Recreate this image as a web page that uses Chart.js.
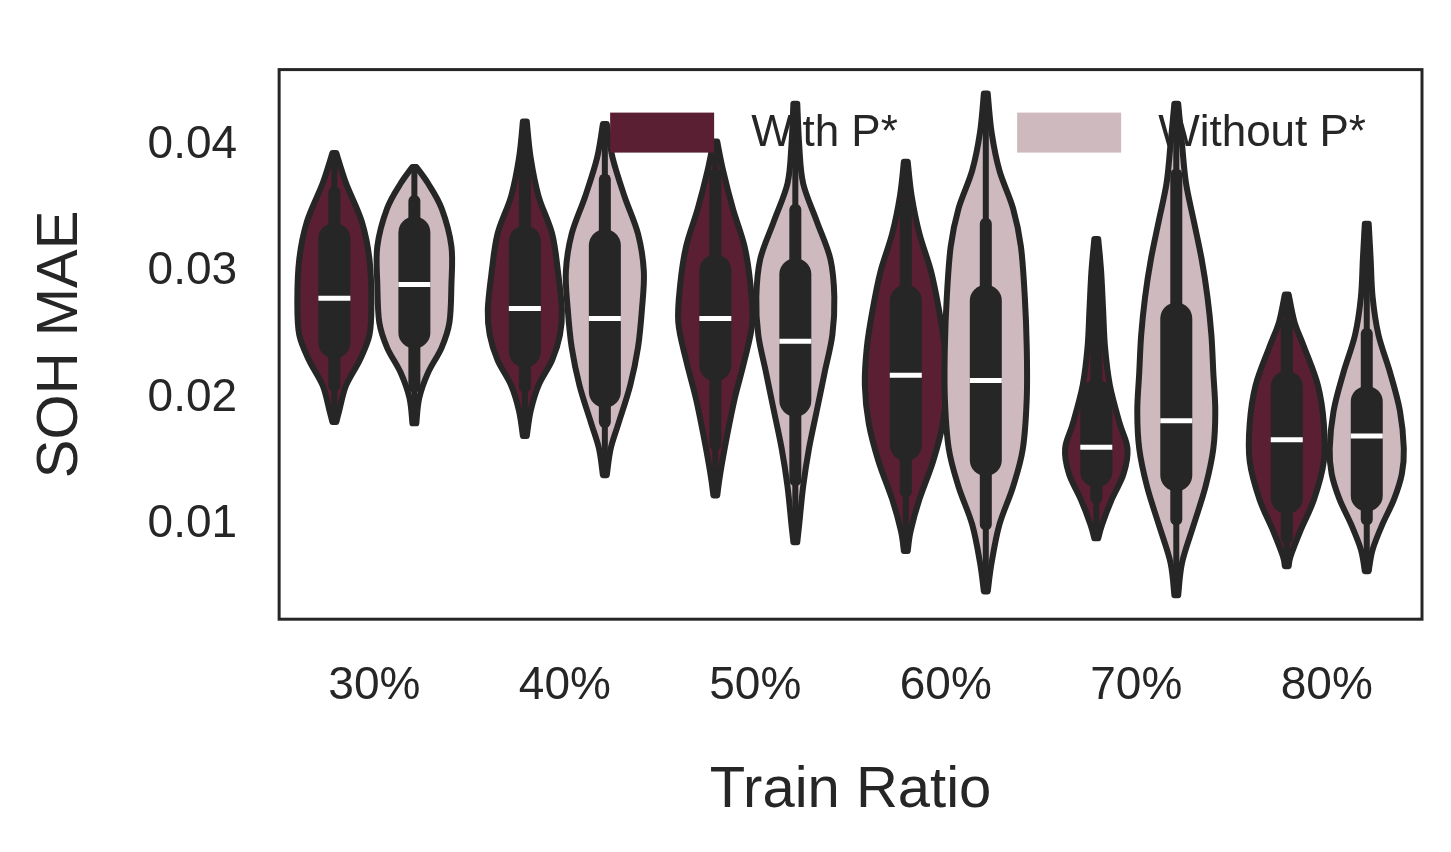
<!DOCTYPE html>
<html><head><meta charset="utf-8">
<script src="https://cdn.jsdelivr.net/npm/chart.js@4"></script>
<style>html,body{margin:0;background:#fff}#w{width:1451px;height:852px}</style>
</head><body><div id="w"><canvas id="c"></canvas></div>
<script>
const categories = ['30%','40%','50%','60%','70%','80%'];
const seriesNames = ['With P*','Without P*'];
const seriesColors = ['#5a1f33','#cdb9be'];
const yTicks = [0.01,0.02,0.03,0.04];
// [min-whisker, q1, median, q3, max-whisker]
const withStats = [
 [0.0210,0.0244,0.0279,0.0326,0.0363],[0.0209,0.0237,0.0271,0.0324,0.0384],
 [0.0163,0.0226,0.0263,0.0301,0.0377],[0.0126,0.0163,0.0218,0.0277,0.0352],
 [0.0121,0.0142,0.0161,0.0202,0.0314],[0.0089,0.0121,0.0167,0.0209,0.0258]];
const withoutStats = [
 [0.0209,0.0252,0.0290,0.0331,0.0356],[0.0181,0.0205,0.0263,0.0321,0.0373],
 [0.0135,0.0198,0.0245,0.0298,0.0349],[0.0100,0.0151,0.0214,0.0277,0.0338],
 [0.0104,0.0139,0.0182,0.0263,0.0377],[0.0104,0.0123,0.0170,0.0197,0.0251]];
// density profiles: [value, relative density (0-42)]
const withProfiles = [
 [[0.0394,2],[0.037,12],[0.034,28],[0.031,36],[0.0275,38],[0.025,36],[0.023,26],[0.021,12],[0.019,5],[0.0181,2]],
 [[0.0419,2],[0.039,6],[0.036,14],[0.033,28],[0.030,34],[0.027,38],[0.025,36],[0.023,28],[0.021,14],[0.019,6],[0.017,2]],
 [[0.0403,2],[0.038,8],[0.035,18],[0.032,30],[0.029,36],[0.026,38],[0.023,30],[0.020,20],[0.017,12],[0.014,5],[0.0123,2]],
 [[0.0387,2],[0.036,6],[0.033,14],[0.030,26],[0.027,34],[0.024,40],[0.021,42],[0.018,38],[0.015,28],[0.012,14],[0.0095,5],[0.0079,2]],
 [[0.0326,2],[0.030,5],[0.027,7],[0.024,9],[0.021,14],[0.018,24],[0.016,32],[0.014,28],[0.012,16],[0.010,6],[0.0089,2]],
 [[0.0282,2],[0.026,8],[0.024,18],[0.021,32],[0.018,38],[0.015,38],[0.012,28],[0.0095,14],[0.0075,4],[0.0067,2]]];
const withoutProfiles = [
 [[0.0383,2],[0.037,14],[0.035,28],[0.032,38],[0.029,38],[0.026,36],[0.024,28],[0.022,14],[0.020,5],[0.018,2]],
 [[0.0417,2],[0.039,8],[0.036,20],[0.033,34],[0.030,40],[0.027,38],[0.024,34],[0.021,26],[0.018,14],[0.016,6],[0.0139,2]],
 [[0.0433,2],[0.040,4],[0.037,8],[0.034,22],[0.031,36],[0.028,40],[0.025,38],[0.022,30],[0.019,22],[0.016,14],[0.013,8],[0.010,4],[0.0086,2]],
 [[0.0441,2],[0.041,6],[0.038,14],[0.035,28],[0.032,36],[0.028,40],[0.024,42],[0.020,42],[0.016,38],[0.013,28],[0.010,14],[0.007,6],[0.0047,2]],
 [[0.0433,2],[0.040,6],[0.037,10],[0.034,18],[0.031,26],[0.028,32],[0.025,36],[0.022,38],[0.019,40],[0.016,38],[0.013,30],[0.010,18],[0.007,6],[0.0044,2]],
 [[0.0338,2],[0.031,4],[0.028,6],[0.025,12],[0.022,24],[0.019,34],[0.016,38],[0.014,36],[0.012,28],[0.010,16],[0.008,6],[0.0063,2]]];

const EDGE='#262626';
const FONT='"Liberation Sans", Arial, sans-serif';
function smoothPath(ctx, pts){
  ctx.lineTo(pts[0][0],pts[0][1]);
  for(let i=0;i<pts.length-1;i++){
    const p0=pts[Math.max(i-1,0)],p1=pts[i],p2=pts[i+1],p3=pts[Math.min(i+2,pts.length-1)];
    ctx.bezierCurveTo(p1[0]+(p2[0]-p0[0])/6,p1[1]+(p2[1]-p0[1])/6,p2[0]-(p3[0]-p1[0])/6,p2[1]-(p3[1]-p1[1])/6,p2[0],p2[1]);
  }
}
const violinPlugin={id:'violins',
 afterDatasetsDraw(chart){
  const {ctx,scales:{x,y},chartArea:a}=chart;
  const cw=x.getPixelForValue(1)-x.getPixelForValue(0);
  const off=0.21*cw, maxHW=0.215*cw;
  ctx.save();
  ctx.beginPath();ctx.rect(a.left,a.top,a.right-a.left,a.bottom-a.top);ctx.clip();
  [[withProfiles,withStats],[withoutProfiles,withoutStats]].forEach(([profs,stats],s)=>{
   profs.forEach((prof,i)=>{
    const cx=x.getPixelForValue(i)+(s===0?-off:off);
    const right=prof.map(p=>[cx+p[1]/42*maxHW,y.getPixelForValue(p[0])]);
    const left=prof.slice().reverse().map(p=>[cx-p[1]/42*maxHW,y.getPixelForValue(p[0])]);
    const top=y.getPixelForValue(prof[0][0]), bot=y.getPixelForValue(prof[prof.length-1][0]);
    ctx.beginPath();ctx.moveTo(cx,top);smoothPath(ctx,right);ctx.lineTo(cx,bot);smoothPath(ctx,left);ctx.closePath();
    ctx.fillStyle=seriesColors[s];ctx.fill();
    ctx.lineWidth=6;ctx.strokeStyle=EDGE;ctx.lineJoin='round';ctx.stroke();
    ctx.beginPath();ctx.moveTo(cx,top);ctx.lineTo(cx,bot);ctx.lineWidth=6;ctx.stroke();
    const st=stats[i];
    ctx.beginPath();ctx.moveTo(cx,y.getPixelForValue(st[0]));ctx.lineTo(cx,y.getPixelForValue(st[4]));
    ctx.lineWidth=12;ctx.lineCap='round';ctx.stroke();
    ctx.beginPath();ctx.moveTo(cx,y.getPixelForValue(st[1]));ctx.lineTo(cx,y.getPixelForValue(st[3]));
    ctx.lineWidth=32;ctx.stroke();ctx.lineCap='butt';
    const my=y.getPixelForValue(st[2]);
    ctx.beginPath();ctx.moveTo(cx-16,my);ctx.lineTo(cx+16,my);ctx.lineWidth=5;ctx.strokeStyle='#fff';ctx.stroke();
   });
  });
  ctx.restore();
  ctx.save();
  ctx.font='44px '+FONT;ctx.textBaseline='middle';
  const ly=a.top+63;
  const items=[a.left+331,a.left+738];
  seriesNames.forEach((n,k)=>{
   const lx=items[k];
   ctx.fillStyle=seriesColors[k];ctx.fillRect(lx,ly-20,104,40);
   ctx.fillStyle=EDGE;ctx.fillText(n,lx+141,ly+1);
  });
  ctx.strokeStyle=EDGE;ctx.lineWidth=3;ctx.strokeRect(a.left,a.top,a.right-a.left,a.bottom-a.top);
  ctx.restore();
 }};

new Chart(document.getElementById('c'),{
 type:'bar',
 data:{labels:categories,datasets:seriesNames.map((n,k)=>({label:n,data:categories.map(()=>null),backgroundColor:seriesColors[k]}))},
 options:{responsive:true,maintainAspectRatio:false,animation:false,
  layout:{padding:{top:0,right:29,bottom:22,left:22}},
  plugins:{legend:{display:false},tooltip:{enabled:false}},
  scales:{
   x:{grid:{display:false,drawTicks:false},border:{display:false},
      ticks:{color:EDGE,font:{size:46,family:FONT},padding:40},
      title:{display:true,text:'Train Ratio',color:EDGE,font:{size:58,family:FONT},padding:{top:2}}},
   y:{min:0.0025,max:0.046,grid:{display:false,drawTicks:false},border:{display:false},
      afterBuildTicks(s){s.ticks=yTicks.map(v=>({value:v}));},
      ticks:{color:EDGE,font:{size:46,family:FONT},padding:42,callback:v=>v.toFixed(2)},
      title:{display:true,text:'SOH MAE',color:EDGE,font:{size:58,family:FONT},padding:{bottom:10}}}
  }},
 plugins:[violinPlugin]
});
</script></body></html>
